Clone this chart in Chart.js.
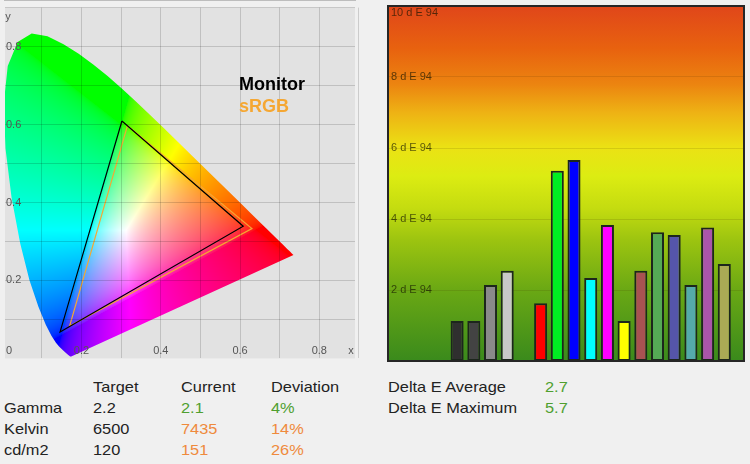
<!DOCTYPE html>
<html>
<head>
<meta charset="utf-8">
<script src="https://cdn.jsdelivr.net/npm/chart.js@4.4.1/dist/chart.umd.min.js"></script>
<style>
html, body { margin: 0; padding: 0; background: #f0f0f0; }
body { width: 750px; height: 464px; position: relative; overflow: hidden;
       font-family: "Liberation Sans", Arial, sans-serif; }
#cie { position: absolute; left: 0; top: 0; }
#de { position: absolute; left: 380px; top: 0; }
.t { position: absolute; font-size: 15px; line-height: 20px; color: #222; white-space: nowrap;
     transform: scaleX(1.09); transform-origin: 0 50%; }
.good { color: #4f9f2f; }
.warn { color: #ef8a3c; }
</style>
</head>
<body>
<canvas id="cie" width="360" height="366"></canvas>
<canvas id="de" width="370" height="366"></canvas>
<div id="table"></div>
<script>
// CIE 1931 spectral locus (380-700 nm)
const wavelengths = [380, 400, 420, 440, 450, 460, 465, 470, 475, 480, 485, 490, 495, 500, 505, 510, 515, 520, 525, 530,
  535, 540, 545, 550, 555, 560, 565, 570, 575, 580, 585, 590, 595, 600, 605, 610, 620, 630, 640, 650, 660, 680, 700];
const locusX = [0.1741, 0.1733, 0.1714, 0.1644, 0.1566, 0.1440, 0.1355, 0.1241, 0.1096, 0.0913, 0.0687, 0.0454, 0.0235,
  0.0082, 0.0039, 0.0139, 0.0389, 0.0743, 0.1142, 0.1547, 0.1929, 0.2296, 0.2658, 0.3016, 0.3373, 0.3731, 0.4087, 0.4441,
  0.4788, 0.5125, 0.5448, 0.5752, 0.6029, 0.6270, 0.6482, 0.6658, 0.6915, 0.7079, 0.7190, 0.7260, 0.7300, 0.7334, 0.7347];
const locusY = [0.0050, 0.0048, 0.0051, 0.0109, 0.0177, 0.0297, 0.0399, 0.0578, 0.0868, 0.1327, 0.2007, 0.2950, 0.4127,
  0.5384, 0.6548, 0.7502, 0.8120, 0.8338, 0.8262, 0.8059, 0.7816, 0.7543, 0.7243, 0.6923, 0.6589, 0.6245, 0.5896, 0.5547,
  0.5202, 0.4866, 0.4544, 0.4242, 0.3965, 0.3725, 0.3514, 0.3340, 0.3083, 0.2920, 0.2809, 0.2740, 0.2700, 0.2666, 0.2653];

// gamut triangles (G, R, B)
const monitorX = [0.302, 0.608, 0.146];
const monitorY = [0.609, 0.339, 0.068];
const srgbX = [0.316, 0.630, 0.170];
const srgbY = [0.597, 0.333, 0.083];

const cieGrid = [0.1, 0.2, 0.3, 0.4, 0.5, 0.6, 0.7, 0.8, 0.9];
const cieLabelValues = [0, 0.2, 0.4, 0.6, 0.8];
const cieLabels = ['0', '0.2', '0.4', '0.6', '0.8'];

// delta E per patch ('' = gap)
const patches = ['Black', 'Dark grey', 'Grey', 'Light grey', '', 'Red', 'Green', 'Blue', 'Cyan', 'Magenta', 'Yellow',
  'Brown', 'Sea green', 'Slate blue', 'Teal', 'Purple', 'Olive'];
const deltaE = [1.13, 1.13, 2.14, 2.54, null, 1.63, 5.36, 5.66, 2.34, 3.83, 1.13, 2.54, 3.63, 3.55, 2.14, 3.76, 2.73];
const patchColors = ['#2f2f2f', '#434343', '#8a8a8a', '#c8c8c8', null, '#ff0000', '#00ee22', '#0000ff', '#00ffff',
  '#ff00ff', '#ffff00', '#a85252', '#55aa55', '#5555aa', '#55aaaa', '#aa55aa', '#aaaa55'];
const deTicks = [2, 4, 6, 8, 10];
const deTickLabels = ['2 d E 94', '4 d E 94', '6 d E 94', '8 d E 94', '10 d E 94'];

// summary table
const tableHead = ['Target', 'Current', 'Deviation'];
const rowNames = ['Gamma', 'Kelvin', 'cd/m2'];
const targets = ['2.2', '6500', '120'];
const currents = ['2.1', '7435', '151'];
const deviations = ['4%', '14%', '26%'];
const rowStatus = ['good', 'warn', 'warn'];
const deltaNames = ['Delta E Average', 'Delta E Maximum'];
const deltaValues = ['2.7', '5.7'];

function pts(xs, ys, close) {
  const p = xs.map((x, i) => ({ x: x, y: ys[i] }));
  if (close) p.push({ x: xs[0], y: ys[0] });
  return p;
}

function xyToRgb(x, y) {
  if (y <= 0.0005) return [0, 0, 0];
  const X = x / y, Y = 1, Z = (1 - x - y) / y;
  let r = 3.2406 * X - 1.5372 * Y - 0.4986 * Z;
  let g = -0.9689 * X + 1.8758 * Y + 0.0415 * Z;
  let b = 0.0557 * X - 0.2040 * Y + 1.0570 * Z;
  r = Math.max(r, 0); g = Math.max(g, 0); b = Math.max(b, 0);
  const m = Math.max(r, g, b) || 1;
  return [r, g, b].map(v => Math.round(255 * Math.pow(v / m, 1 / 2.2)));
}

function chromaPattern(chart) {
  const w = chart.width, h = chart.height;
  if (chart.$chroma && chart.$chroma.w === w && chart.$chroma.h === h) return chart.$chroma.pattern;
  const off = document.createElement('canvas');
  off.width = w; off.height = h;
  const octx = off.getContext('2d');
  const img = octx.createImageData(w, h);
  const sx = chart.scales.x, sy = chart.scales.y;
  for (let j = 0; j < h; j++) {
    const cy = sy.getValueForPixel(j + 0.5);
    for (let i = 0; i < w; i++) {
      const c = xyToRgb(sx.getValueForPixel(i + 0.5), cy);
      const k = (j * w + i) * 4;
      img.data[k] = c[0]; img.data[k + 1] = c[1]; img.data[k + 2] = c[2]; img.data[k + 3] = 255;
    }
  }
  octx.putImageData(img, 0, 0);
  const pattern = chart.ctx.createPattern(off, 'no-repeat');
  chart.$chroma = { w, h, pattern };
  return pattern;
}

const cieBackground = {
  id: 'cieBackground',
  beforeDraw(chart) {
    const { ctx, chartArea: a } = chart;
    ctx.save();
    ctx.fillStyle = '#e2e2e2';
    ctx.fillRect(a.left, a.top, a.right - a.left, a.bottom - a.top);
    ctx.restore();
  }
};

const cieText = {
  id: 'cieText',
  afterDraw(chart) {
    const { ctx, chartArea: a, scales } = chart;
    ctx.save();
    ctx.font = '11px "Liberation Sans", Arial, sans-serif';
    ctx.fillStyle = '#555';
    ctx.textBaseline = 'middle';
    cieLabelValues.forEach((v, i) => {
      if (v === 0) {
        ctx.textAlign = 'left';
        ctx.fillText(cieLabels[i], a.left + 1, a.bottom - 7);
      } else {
        ctx.textAlign = 'center';
        ctx.fillText(cieLabels[i], scales.x.getPixelForValue(v), a.bottom - 7);
      }
    });
    ctx.textAlign = 'center';
    ctx.fillText('x', a.right - 4, a.bottom - 7);
    ctx.fillText('y', a.left + 3, a.top + 9);
    // legend
    ctx.font = 'bold 18px "Liberation Sans", Arial, sans-serif';
    ctx.textAlign = 'left';
    chart.data.datasets.filter(d => d.showInLegend).forEach((d, i) => {
      ctx.fillStyle = d.borderColor;
      ctx.fillText(d.label, 239, 85 + i * 22);
    });
    ctx.restore();
  }
};

new Chart(document.getElementById('cie'), {
  type: 'line',
  data: {
    datasets: [
      {
        label: 'Monitor',
        showInLegend: true,
        order: 0,
        data: pts(monitorX, monitorY, true),
        borderColor: '#000000',
        borderWidth: 1.2,
        pointRadius: 0,
        fill: false
      },
      {
        label: 'sRGB',
        showInLegend: true,
        order: 1,
        data: pts(srgbX, srgbY, true),
        borderColor: '#f5a733',
        borderWidth: 1.2,
        pointRadius: 0,
        fill: false
      },
      {
        label: 'Locus',
        order: 5,
        data: pts(locusX, locusY, true),
        borderColor: 'rgba(0,0,0,0)',
        borderWidth: 1,
        pointRadius: 0,
        fill: 'shape',
        backgroundColor: (context) => {
          const chart = context.chart;
          if (!chart.chartArea) return 'rgba(0,0,0,0)';
          return chromaPattern(chart);
        }
      }
    ]
  },
  options: {
    responsive: false,
    animation: false,
    layout: { padding: { left: 5, top: 6, right: 5, bottom: 5 } },
    plugins: { legend: { display: false }, tooltip: { enabled: false } },
    scales: {
      x: {
        type: 'linear',
        min: 0.007,
        max: 0.89,
        afterBuildTicks: s => { s.ticks = cieGrid.map(v => ({ value: v })); },
        afterFit: s => { s.height = 0; },
        ticks: { display: false },
        grid: { color: 'rgba(0,0,0,0.15)', drawTicks: false, z: 1 },
        border: { display: true, color: '#8a8a8a', width: 1.2 }
      },
      y: {
        type: 'linear',
        min: 0,
        max: 0.9,
        afterBuildTicks: s => { s.ticks = cieGrid.map(v => ({ value: v })); },
        afterFit: s => { s.width = 0; },
        ticks: {
          mirror: true,
          padding: 1,
          z: 1,
          color: '#555',
          font: { family: '"Liberation Sans", Arial, sans-serif', size: 11 },
          callback: function (value) {
            const i = cieLabelValues.findIndex(v => v > 0 && Math.abs(v - value) < 1e-6);
            return i < 0 ? '' : cieLabels[i];
          }
        },
        grid: { color: 'rgba(0,0,0,0.15)', drawTicks: false, z: 1 },
        border: { display: false }
      }
    }
  },
  plugins: [cieBackground, cieText]
});

const deBackground = {
  id: 'deBackground',
  beforeDraw(chart) {
    const { ctx, chartArea: a } = chart;
    const g = ctx.createLinearGradient(0, a.top, 0, a.bottom);
    g.addColorStop(0.00, '#e0461a');
    g.addColorStop(0.12, '#e8620f');
    g.addColorStop(0.22, '#ec8410');
    g.addColorStop(0.30, '#eeb214');
    g.addColorStop(0.40, '#ebe214');
    g.addColorStop(0.48, '#dcec12');
    g.addColorStop(0.57, '#c4dc10');
    g.addColorStop(0.66, '#9cc410');
    g.addColorStop(0.80, '#6aa814');
    g.addColorStop(1.00, '#3a8a1c');
    ctx.save();
    ctx.fillStyle = g;
    ctx.fillRect(a.left, a.top, a.right - a.left, a.bottom - a.top);
    ctx.restore();
  },
  afterDraw(chart) {
    const { ctx, chartArea: a, scales } = chart;
    ctx.save();
    ctx.font = '11px "Liberation Sans", Arial, sans-serif';
    ctx.fillStyle = 'rgba(20,20,0,0.68)';
    ctx.textAlign = 'left';
    ctx.textBaseline = 'middle';
    deTicks.forEach((v, i) => {
      const y = Math.max(scales.y.getPixelForValue(v), a.top + 7);
      ctx.fillText(deTickLabels[i], a.left + 3, y);
    });
    ctx.strokeStyle = '#262626';
    ctx.lineWidth = 2;
    ctx.strokeRect(a.left, a.top, a.right - a.left, a.bottom - a.top);
    ctx.restore();
  }
};

const barPoints = [];
const barColors = [];
patches.forEach((p, i) => {
  if (deltaE[i] === null) return;
  barPoints.push({ x: i, y: deltaE[i] });
  barColors.push(patchColors[i]);
});

new Chart(document.getElementById('de'), {
  type: 'bar',
  data: {
    datasets: [{
      label: 'dE94',
      data: barPoints,
      backgroundColor: barColors,
      borderColor: '#1c261c',
      borderWidth: 2,
      borderSkipped: false,
      categoryPercentage: 1,
      barPercentage: 0.78
    }]
  },
  options: {
    responsive: false,
    animation: false,
    layout: { padding: { left: 8, top: 6, right: 6, bottom: 5 } },
    plugins: { legend: { display: false }, tooltip: { enabled: false } },
    scales: {
      x: { type: 'linear', min: -4.14, max: 17.18, offset: false, display: false },
      y: {
        min: 0,
        max: 10,
        afterBuildTicks: s => { s.ticks = deTicks.map(v => ({ value: v })); },
        afterFit: s => { s.width = 0; },
        ticks: { display: false },
        grid: { color: 'rgba(60,40,0,0.13)', drawTicks: false },
        border: { display: false }
      }
    }
  },
  plugins: [deBackground]
});

// summary text
const table = document.getElementById('table');
function put(text, left, baseline, cls) {
  const d = document.createElement('div');
  d.className = 't' + (cls ? ' ' + cls : '');
  d.textContent = text;
  d.style.left = left + 'px';
  d.style.top = (baseline - 15) + 'px';
  table.appendChild(d);
}
const cols = [4, 92.5, 181, 271];
tableHead.forEach((h, i) => put(h, cols[i + 1], 392));
rowNames.forEach((n, r) => {
  const base = 413 + r * 21;
  put(n, cols[0], base);
  put(targets[r], cols[1], base);
  put(currents[r], cols[2], base, rowStatus[r]);
  put(deviations[r], cols[3], base, rowStatus[r]);
});
deltaNames.forEach((n, r) => {
  put(n, 388, 392 + r * 21);
  put(deltaValues[r], 544.5, 392 + r * 21, 'good');
});
</script>
</body>
</html>
